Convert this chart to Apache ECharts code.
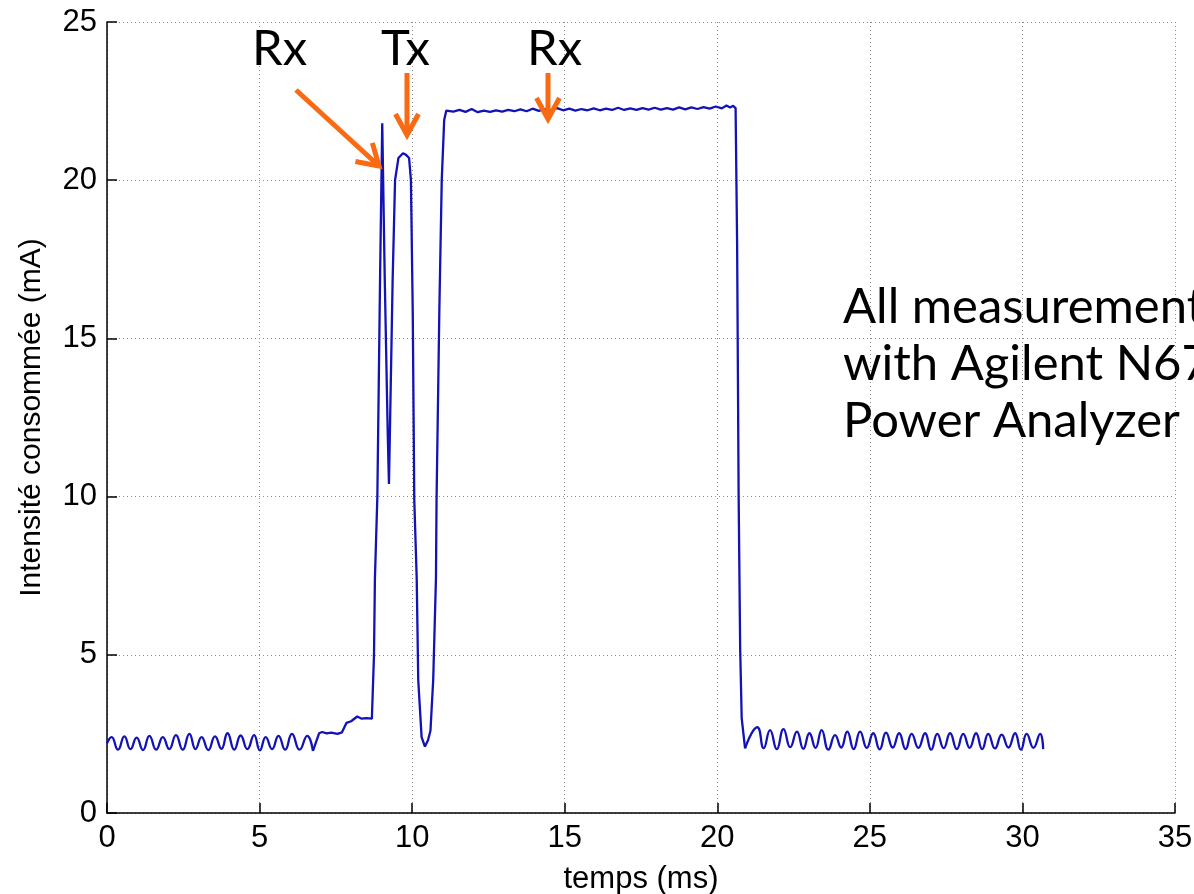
<!DOCTYPE html>
<html>
<head>
<meta charset="utf-8">
<script src="https://cdn.jsdelivr.net/npm/echarts@6/dist/echarts.min.js"></script>
<style>
html,body{margin:0;padding:0;background:#fff;}
#chart{width:1194px;height:894px;}
</style>
</head>
<body>
<div id="chart"></div>
<script>
// ---- data ----
const timeMs = [
  0.00,0.15,0.36,0.57,0.77,0.97,1.18,1.39,1.61,1.83,2.04,2.26,2.48,2.70,2.90,3.10,3.32,3.54,3.75,3.95,
  4.17,4.38,4.60,4.82,5.01,5.20,5.41,5.62,5.84,6.06,6.31,6.56,6.75,6.95,7.05,7.20,7.35,7.55,7.70,7.85,
  8.00,8.20,8.35,8.50,8.68,8.75,8.78,8.86,8.95,9.02,9.10,9.20,9.24,9.28,9.36,9.44,9.55,9.70,9.80,9.90,
  9.96,10.02,10.07,10.15,10.20,10.31,10.42,10.52,10.60,10.69,10.78,10.80,10.89,10.97,11.05,11.12,
  11.35,11.55,11.75,11.95,12.15,12.35,12.55,12.75,12.95,13.15,13.35,13.55,13.75,13.95,14.15,14.35,14.55,
  14.75,14.95,15.15,15.35,15.55,15.75,15.95,16.15,16.35,16.55,16.75,16.95,17.15,17.35,17.55,17.75,17.95,
  18.15,18.35,18.55,18.75,18.95,19.15,19.35,19.55,19.75,19.95,20.15,20.30,20.42,20.52,20.60,20.65,20.70,
  20.75,20.80,20.91,21.31,21.52,21.73,21.95,22.17,22.39,22.61,22.82,23.02,23.22,23.42,23.64,23.86,24.06,
  24.26,24.47,24.68,24.90,25.11,25.32,25.53,25.75,25.96,26.17,26.37,26.59,26.81,27.01,27.21,27.42,27.63,
  27.85,28.06,28.27,28.48,28.68,28.88,29.10,29.32,29.54,29.76,29.95,30.14,30.36,30.58,30.68
];
const currentMa = [
  2.20,2.40,2.00,2.42,2.02,2.38,1.99,2.44,2.00,2.40,2.02,2.46,2.00,2.50,2.02,2.40,1.99,2.42,2.03,2.52,
  2.00,2.45,2.02,2.46,1.98,2.40,2.02,2.44,2.00,2.50,2.00,2.44,1.96,2.52,2.56,2.52,2.54,2.50,2.55,2.85,
  2.90,3.05,2.98,3.00,2.98,5.00,7.40,10.0,17.0,21.8,17.0,12.0,10.4,12.5,16.8,20.0,20.7,20.85,20.8,20.7,
  20.0,15.8,9.9,7.4,4.2,2.4,2.1,2.3,2.6,4.2,7.4,9.9,15.8,20.0,21.9,22.20,
  22.17,22.22,22.16,22.25,22.15,22.20,22.16,22.21,22.17,22.22,22.18,22.24,22.18,22.26,22.19,22.25,22.20,
  22.28,22.21,22.26,22.20,22.25,22.21,22.27,22.21,22.26,22.22,22.29,22.22,22.27,22.22,22.28,22.23,22.29,
  22.23,22.28,22.23,22.30,22.24,22.30,22.25,22.31,22.26,22.33,22.27,22.36,22.30,22.35,22.28,18.0,10.0,
  5.2,3.0,2.04,2.71,2.05,2.62,2.02,2.65,2.08,2.57,2.03,2.52,2.06,2.62,2.00,2.46,2.07,2.57,2.02,2.57,2.06,
  2.52,2.01,2.54,2.07,2.52,2.02,2.50,2.06,2.52,2.00,2.50,2.05,2.52,2.02,2.50,2.06,2.52,2.02,2.50,2.04,
  2.48,2.07,2.52,2.00,2.50,2.06,2.50,2.02,2.43,2.30
];
const xTicks = [0, 5, 10, 15, 20, 25, 30, 35];
const yTicks = [0, 5, 10, 15, 20, 25];
const xLabel = 'temps (ms)';
const yLabel = 'Intensité consommée (mA)';
const noteLines = ['All measurement', 'with Agilent N67', 'Power Analyzer'];
const markers = ['Rx', 'Tx', 'Rx'];
// idle phases (rounded ripple) vs. radio activity phase
const burstStartMs = 6.75;
const burstEndMs = 20.91;

// ---- chart ----
const allPoints = timeMs.map((t, i) => [t, currentMa[i]]);
const idleBefore = allPoints.filter(p => p[0] <= burstStartMs);
const burst = allPoints.filter(p => p[0] >= burstStartMs && p[0] <= burstEndMs);
const idleAfter = allPoints.filter(p => p[0] >= burstEndMs);

const chart = echarts.init(document.getElementById('chart'), null, {renderer: 'canvas'});

const axisFont = 'Liberation Sans';
const FS = 31;
const gridStyle = {show: true, lineStyle: {color: '#8a8a8a', width: 1, type: [1, 3]}};

const ORANGE = '#F96A12';
function arrow(tail, tip, wing, half) {
  const dx = tip[0] - tail[0], dy = tip[1] - tail[1];
  const len = Math.hypot(dx, dy);
  const ux = dx / len, uy = dy / len;
  const a = Math.atan2(-uy, -ux);
  const w1 = [tip[0] + wing * Math.cos(a + half), tip[1] + wing * Math.sin(a + half)];
  const w2 = [tip[0] + wing * Math.cos(a - half), tip[1] + wing * Math.sin(a - half)];
  return [
    {type: 'polyline', shape: {points: [tail, [tip[0] - ux * 3, tip[1] - uy * 3]]},
     style: {stroke: ORANGE, lineWidth: 5, lineCap: 'butt'}, z: 100},
    {type: 'polyline', shape: {points: [w1, tip, w2]},
     style: {stroke: ORANGE, lineWidth: 5, lineJoin: 'miter', lineCap: 'butt', fill: null}, z: 100}
  ];
}

const annoFont = '49px Lato, "DejaVu Sans", sans-serif';
const graphics = [
  {type: 'text', left: 252, top: 25, style: {text: markers[0], font: annoFont, fill: '#000'}, z: 100},
  {type: 'text', left: 381, top: 25, style: {text: markers[1], font: annoFont, fill: '#000'}, z: 100},
  {type: 'text', left: 527, top: 25, style: {text: markers[2], font: annoFont, fill: '#000'}, z: 100},
  {type: 'text', left: 843, top: 283, style: {text: noteLines[0], font: annoFont, fill: '#000'}, z: 100},
  {type: 'text', left: 843, top: 340, style: {text: noteLines[1], font: annoFont, fill: '#000'}, z: 100},
  {type: 'text', left: 843, top: 397, style: {text: noteLines[2], font: annoFont, fill: '#000'}, z: 100}
].concat(
  arrow([296, 90], [379, 166], 24, 0.55),
  arrow([407, 73], [407, 135], 24, 0.5),
  arrow([548, 73], [548, 119], 24, 0.5)
);

const lineStyle = {color: '#1212B6', width: 2.3};
chart.setOption({
  animation: false,
  backgroundColor: '#ffffff',
  grid: {left: 107, right: 19, top: 22, bottom: 81, containLabel: false, outerBoundsMode: 'none'},
  xAxis: {
    type: 'value', min: xTicks[0], max: xTicks[xTicks.length - 1], interval: 5,
    name: xLabel, nameLocation: 'middle', nameGap: 51,
    nameTextStyle: {fontFamily: axisFont, fontSize: FS, color: '#000'},
    axisLine: {show: true, onZero: false, lineStyle: {color: '#000', width: 1.5}},
    axisTick: {show: true, inside: true, length: 10, lineStyle: {color: '#000', width: 1.5}},
    axisLabel: {fontFamily: axisFont, fontSize: FS, color: '#000', margin: 10},
    splitLine: gridStyle
  },
  yAxis: {
    type: 'value', min: yTicks[0], max: yTicks[yTicks.length - 1], interval: 5,
    name: yLabel, nameLocation: 'middle', nameGap: 60,
    nameTextStyle: {fontFamily: axisFont, fontSize: 30, color: '#000'},
    axisLine: {show: true, onZero: false, lineStyle: {color: '#000', width: 1.5}},
    axisTick: {show: true, inside: true, length: 10, lineStyle: {color: '#000', width: 1.5}},
    axisLabel: {fontFamily: axisFont, fontSize: FS, color: '#000', margin: 10},
    splitLine: gridStyle
  },
  series: [
    {type: 'line', data: idleBefore, showSymbol: false, smooth: 0.5, lineStyle: lineStyle, z: 5},
    {type: 'line', data: burst, showSymbol: false, smooth: false, lineStyle: lineStyle, z: 5},
    {type: 'line', data: idleAfter, showSymbol: false, smooth: 0.5, lineStyle: lineStyle, z: 5}
  ],
  graphic: graphics
});
</script>
</body>
</html>
